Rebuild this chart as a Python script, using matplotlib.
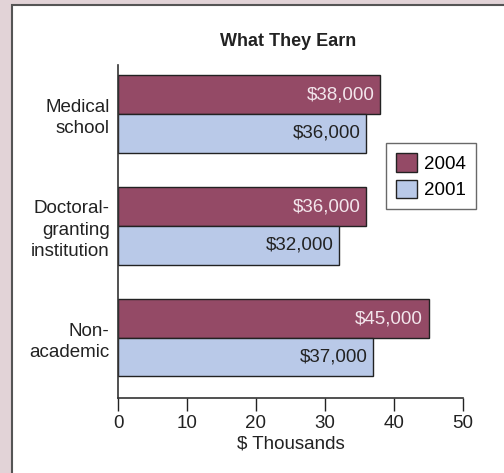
import matplotlib.pyplot as plt
import numpy as np
from matplotlib.patches import Rectangle

plt.rcParams['font.family'] = ['Liberation Sans', 'DejaVu Sans']

categories = ["Medical\nschool", "Doctoral-\ngranting\ninstitution", "Non-\nacademic"]
earn_2004 = [38, 36, 45]
earn_2001 = [36, 32, 37]
labels_2004 = ["$38,000", "$36,000", "$45,000"]
labels_2001 = ["$36,000", "$32,000", "$37,000"]
xticks = [0, 10, 20, 30, 40, 50]

c2004 = "#944a66"
c2001 = "#b9c9e8"
fs = 13.5

fig = plt.figure(figsize=(5.04, 4.73), dpi=100)
fig.patch.set_facecolor("#e2d3d7")

# white panel with dark border
panel = Rectangle((12 / 504, -0.05), 1.0, 1 - 5 / 473 + 0.05,
                  transform=fig.transFigure, facecolor="white",
                  edgecolor="#555555", linewidth=1.5, zorder=-1)
fig.patches.append(panel)

ax = fig.add_axes([118 / 504, 1 - 398 / 473, (463 - 118) / 504, (398 - 65) / 473])
ax.set_zorder(1)
ax.set_facecolor("none")

y = np.arange(len(categories))
h = 0.344
ax.barh(y - h / 2, earn_2004, height=h, color=c2004, edgecolor="#222222",
        linewidth=1, label="2004")
ax.barh(y + h / 2, earn_2001, height=h, color=c2001, edgecolor="#222222",
        linewidth=1, label="2001")

for i in range(len(categories)):
    ax.text(earn_2004[i] - 0.8, y[i] - h / 2, labels_2004[i], ha="right",
            va="center", color="#f3e6ec", fontsize=fs)
    ax.text(earn_2001[i] - 0.8, y[i] + h / 2, labels_2001[i], ha="right",
            va="center", color="#222222", fontsize=fs)

ax.set_ylim(2.536, -0.4375)
ax.set_xlim(0, 50)
ax.set_yticks(y)
ax.set_yticklabels(categories, fontsize=fs, color="#222222", ha="right",
                   multialignment="right", linespacing=1.32)
ax.tick_params(axis="y", length=0, pad=6)
ax.set_xticks(xticks)
ax.tick_params(axis="x", length=9, width=1, labelsize=fs, colors="#222222",
               direction="out", pad=3)
ax.set_xlabel("$ Thousands", fontsize=fs, color="#222222", labelpad=3)

for s in ["top", "right"]:
    ax.spines[s].set_visible(False)
for s in ["left", "bottom"]:
    ax.spines[s].set_color("#333333")
    ax.spines[s].set_linewidth(1.2)

fig.text(288 / 504, 1 - 41 / 473, "What They Earn", ha="center", va="center",
         fontsize=13, fontweight="bold", color="#222222")

leg = ax.legend(loc="upper left", bbox_to_anchor=((386 - 118) / 345, 1 - (143 - 65) / 333),
                frameon=True, fancybox=False, edgecolor="#444444", fontsize=fs,
                handlelength=1.1, handleheight=1.12, handletextpad=0.38,
                labelspacing=0.36, borderpad=0.55, borderaxespad=0)
leg.get_frame().set_linewidth(1)

fig.savefig("out.png", dpi=100, facecolor=fig.get_facecolor())
